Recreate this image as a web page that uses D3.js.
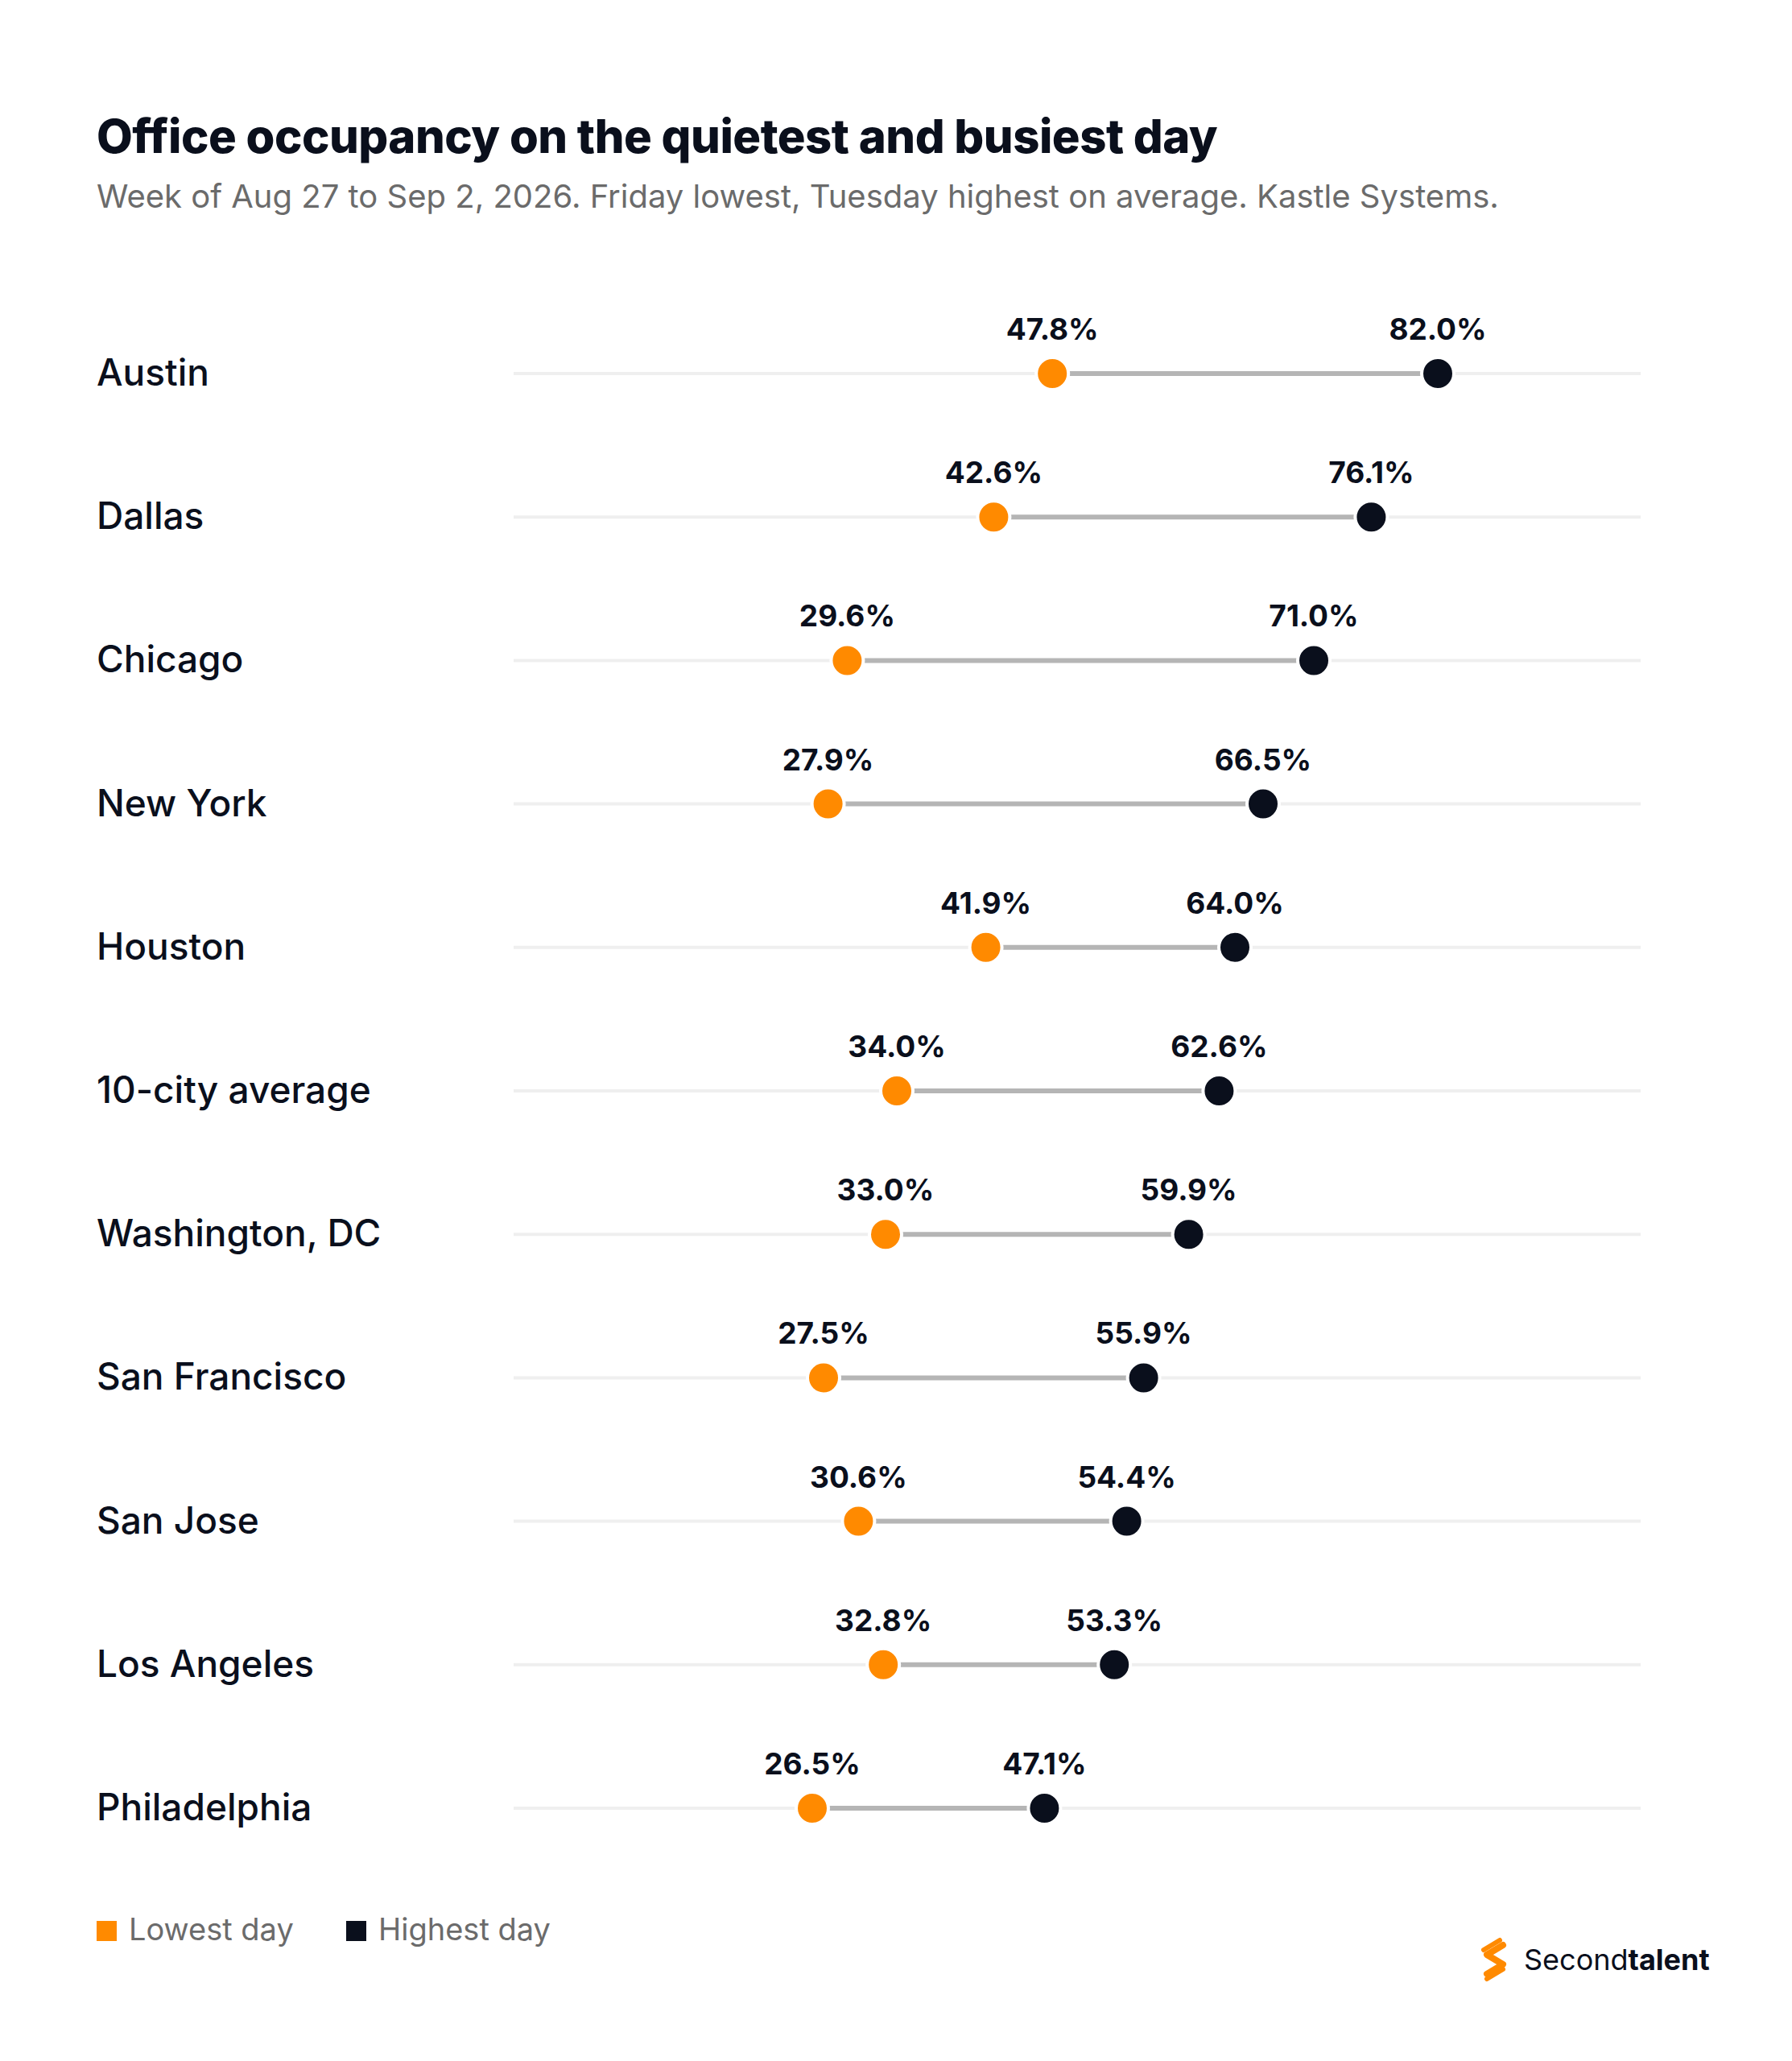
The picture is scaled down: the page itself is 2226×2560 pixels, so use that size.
<!DOCTYPE html>
<html><head><meta charset="utf-8">
<script src="https://cdn.jsdelivr.net/npm/d3@7"></script>
<style>body{margin:0;background:#fff}svg{display:block}</style>
</head><body>
<script>
const cities = ["Austin","Dallas","Chicago","New York","Houston","10-city average","Washington, DC","San Francisco","San Jose","Los Angeles","Philadelphia"];
const lowest = [47.8,42.6,29.6,27.9,41.9,34.0,33.0,27.5,30.6,32.8,26.5];
const highest = [82.0,76.1,71.0,66.5,64.0,62.6,59.9,55.9,54.4,53.3,47.1];
const seriesNames = ["Lowest day","Highest day"];

const W=2226,H=2560,F="Inter, 'Noto Sans', sans-serif";
const ORANGE="#FF8A00", DARK="#0A0F1C";
const svg=d3.select("body").append("svg").attr("width",W).attr("height",H);
svg.append("rect").attr("width",W).attr("height",H).attr("fill","#fff");
svg.append("text").attr("x",120).attr("y",190).attr("font-family",F).attr("font-weight",800)
  .attr("font-size",58).attr("fill",DARK).attr("letter-spacing",-0.5).text("Office occupancy on the quietest and busiest day");
svg.append("text").attr("x",120).attr("y",258).attr("font-family",F).attr("font-size",40)
  .attr("fill","#6b6b6b").text("Week of Aug 27 to Sep 2, 2026. Friday lowest, Tuesday highest on average. Kastle Systems.");

const x=d3.scaleLinear().domain([0,100]).range([638,2038]);
const y=d3.scalePoint().domain(cities).range([464,2246]);
const data=cities.map((c,i)=>({c,lo:lowest[i],hi:highest[i]}));
const g=svg.selectAll("g.row").data(data).join("g").attr("transform",d=>`translate(0,${y(d.c)})`);
g.append("line").attr("x1",x(0)).attr("x2",x(100)).attr("stroke","#efefef").attr("stroke-width",4);
g.append("line").attr("x1",d=>x(d.lo)).attr("x2",d=>x(d.hi)).attr("stroke","#b5b5b5").attr("stroke-width",6);
g.append("text").attr("x",120).attr("y",15).attr("font-family",F).attr("font-weight",500).attr("font-size",46).attr("fill",DARK).text(d=>d.c);
g.append("circle").attr("cx",d=>x(d.lo)).attr("r",20).attr("fill",ORANGE).attr("stroke","#fff").attr("stroke-width",4);
g.append("circle").attr("cx",d=>x(d.hi)).attr("r",20).attr("fill",DARK).attr("stroke","#fff").attr("stroke-width",4);
g.append("text").attr("x",d=>x(d.lo)).attr("y",-42).attr("text-anchor","middle").attr("font-family",F).attr("font-weight",700).attr("font-size",37).attr("fill",DARK).text(d=>d.lo.toFixed(1)+"%");
g.append("text").attr("x",d=>x(d.hi)).attr("y",-42).attr("text-anchor","middle").attr("font-family",F).attr("font-weight",700).attr("font-size",37).attr("fill",DARK).text(d=>d.hi.toFixed(1)+"%");

const lg=svg.append("g");
[[120,ORANGE],[430,DARK]].forEach(([lx,col],i)=>{
  lg.append("rect").attr("x",lx).attr("y",2386).attr("width",25).attr("height",25).attr("fill",col);
  lg.append("text").attr("x",lx+40).attr("y",2410).attr("font-family",F).attr("font-size",38).attr("fill","#6b6b6b").text(seriesNames[i]);
});
const lgo=svg.append("g").attr("transform","translate(1855,2434)");
lgo.append("path").attr("d","M12,-18 L-8,-6 L12,6 L-8,18").attr("fill","none").attr("stroke",ORANGE).attr("stroke-width",8).attr("stroke-linejoin","round").attr("stroke-linecap","round");
lgo.append("path").attr("d","M8,-24 L-12,-12 M-8,24 L12,12").attr("fill","none").attr("stroke",ORANGE).attr("stroke-width",6).attr("stroke-linecap","round");
const t=svg.append("text").attr("x",1893).attr("y",2447).attr("font-family",F).attr("font-size",36).attr("fill",DARK);
t.append("tspan").text("Second");
t.append("tspan").attr("font-weight",700).text("talent");
</script>
</body></html>
